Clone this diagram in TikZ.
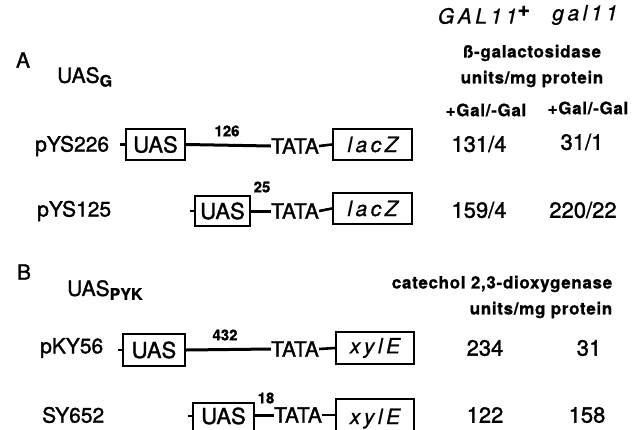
\documentclass[tikz,border=0pt]{standalone}
\usepackage{fontspec}
\setmainfont{TeX Gyre Heros}[FakeBold=1.4, BoldFeatures={FakeBold=0.8}, ItalicFeatures={FakeBold=0.8}]
\begin{document}
\begin{tikzpicture}[x=1pt,y=-1pt,
  lbl/.style={inner sep=0, font=\fontsize{21}{21}\selectfont},
  num/.style={inner sep=0, font=\fontsize{22}{22}\selectfont},
  hdr/.style={inner sep=0, font=\fontsize{17}{17}\selectfont\bfseries\addfontfeatures{LetterSpace=4}},
  dist/.style={inner sep=0, font=\fontsize{15}{15}\selectfont\bfseries},
  uasbox/.style={draw, line width=2pt, inner sep=0, font=\fontsize{22}{22}\selectfont},
  genebox/.style={draw, line width=2pt, inner sep=0, font=\fontsize{21}{21}\selectfont\itshape},
  link/.style={line width=3pt},
  stub/.style={line width=2.6pt}]
\clip (0,0) rectangle (644,429);
\fill[white] (0,0) rectangle (644,429);
% headers
\node[inner sep=0, font=\fontsize{21}{21}\selectfont\itshape] (g1) at (484,15) {G\,A\,L\,1\,1$^{\textbf{+}}$};
\node[inner sep=0, font=\fontsize{21}{21}\selectfont\itshape] (g2) at (585,15) {g\,a\,l\,1\,1};
\node[hdr] (bg) at (532,53) {ß-galactosidase};
\node[hdr] (u1) at (532,79) {units/mg protein};
\node[hdr] (gal1) at (486,110) {+Gal/-Gal};
\node[hdr] (gal2) at (588,108) {+Gal/-Gal};
\node[inner sep=0, font=\fontsize{21}{21}\selectfont] (A) at (23,60) {A};
\node[inner sep=0, font=\fontsize{21}{21}\selectfont, anchor=west] (ug) at (57,77) {UAS\raisebox{-0.35ex}{\fontsize{16}{16}\selectfont\bfseries G}};
% row 1
\node[lbl, anchor=west] (p1) at (35,146) {pYS226};
\node[uasbox, minimum width=59, minimum height=31] (ua1) at (155.5,144.5) {UAS};
\node[lbl] (t1) at (295,146) {TATA};
\node[genebox, minimum width=79, minimum height=31] (z1) at (372.5,144.5) {l\,a\,c\,Z};
\node[dist] (d1) at (227,131) {126};
\coordinate (s1) at (120,144.5);
\draw[stub] (s1) -- (ua1.west);
\draw[link] (ua1.east) -- (t1.west);
\draw[stub] (t1.east) -- (z1.west);
\node[num] (n11) at (479,144) {131/4};
\node[num] (n12) at (582,142) {31/1};
% row 2
\node[lbl, anchor=west] (p2) at (37,211) {pYS125};
\node[uasbox, minimum width=55, minimum height=30] (ua2) at (222.5,211) {UAS};
\node[lbl] (t2) at (295,211) {TATA};
\node[genebox, minimum width=79, minimum height=31] (z2) at (372.5,208.5) {l\,a\,c\,Z};
\node[dist] (d2) at (262,187) {25};
\coordinate (s2) at (190,211);
\draw[stub] (s2) -- (ua2.west);
\draw[link] (ua2.east) -- (t2.west);
\draw[stub] (t2.east) -- (z2.west);
\node[num] (n21) at (479,210) {159/4};
\node[num] (n22) at (583,210) {220/22};
% B
\node[inner sep=0, font=\fontsize{21}{21}\selectfont] (B) at (24,272) {B};
\node[inner sep=0, font=\fontsize{21}{21}\selectfont, anchor=west] (up) at (67,290) {UAS\raisebox{-0.35ex}{\fontsize{16}{16}\selectfont\bfseries PYK}};
\node[hdr] (cat) at (502,284) {catechol 2,3-dioxygenase};
\node[hdr] (u2) at (541,310) {units/mg protein};
% row 3
\node[lbl, anchor=west] (p3) at (40,348) {pKY56};
\node[uasbox, minimum width=62, minimum height=32] (ua3) at (154,350) {UAS};
\node[lbl] (t3) at (295,349) {TATA};
\node[genebox, minimum width=78, minimum height=32] (x3) at (375,348) {x\,y\,l\,E};
\node[dist] (d3) at (225,335) {432};
\coordinate (s3) at (118,350);
\draw[stub] (s3) -- (ua3.west);
\draw[link] (ua3.east) -- (t3.west);
\draw[stub] (t3.east) -- (x3.west);
\node[num] (n31) at (485,348) {234};
\node[num] (n32) at (589,348) {31};
% row 4
\node[lbl, anchor=west] (p4) at (42,415) {SY652};
\node[uasbox, minimum width=61, text height=21pt, text depth=12pt, anchor=base] (ua4) at (223.5,424) {UAS};
\node[lbl] (t4) at (298,415) {TATA};
\node[genebox, minimum width=78, text height=25pt, text depth=12pt, anchor=base] (x4) at (375,424) {x\,y\,l\,E};
\node[dist] (d4) at (266,398) {18};
\coordinate (s4) at (188,416);
\draw[stub] (s4) -- (ua4.west |- s4);
\draw[link] (ua4.east |- t4.west) -- (t4.west);
\draw[stub] (t4.east) -- (x4.west |- t4.east);
\node[num] (n41) at (485,415) {122};
\node[num] (n42) at (587,415) {158};
\end{tikzpicture}
\end{document}
